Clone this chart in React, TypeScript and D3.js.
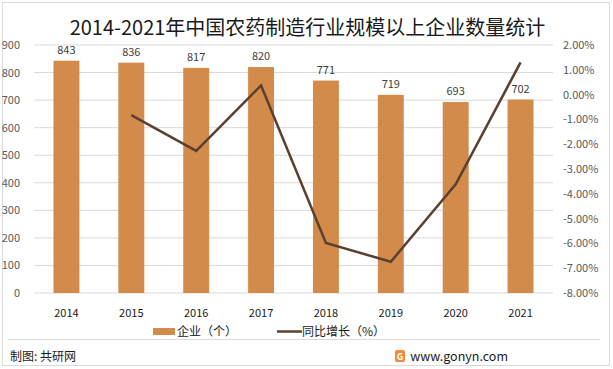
import * as d3 from "d3";

const years = ["2014", "2015", "2016", "2017", "2018", "2019", "2020", "2021"];
const firms = [843, 836, 817, 820, 771, 719, 693, 702];
// 同比增长 (%), 2014 has no value
const growth: (number | null)[] = [null, -0.83, -2.27, 0.37, -5.98, -6.74, -3.62, 1.3];
const leftTicks = [0, 100, 200, 300, 400, 500, 600, 700, 800, 900];
const rightTicks = [2, 1, 0, -1, -2, -3, -4, -5, -6, -7, -8];

const W = 613, H = 369;
const plot = { left: 34, right: 553, top: 45, bottom: 293 };
const barColor = "#d38b4c";
const lineColor = "#5b4030";
const font = "'Microsoft YaHei', 'Noto Sans CJK SC', sans-serif";

const App = () => {
  const x = d3.scaleBand().domain(years).range([plot.left, plot.right]).paddingInner(0.6).paddingOuter(0.3);
  const yL = d3.scaleLinear().domain([0, 900]).range([plot.bottom, plot.top]);
  const yR = d3.scaleLinear().domain([-8, 2]).range([plot.bottom, plot.top]);
  const cx = (yr: string) => (x(yr) as number) + x.bandwidth() / 2;

  const pts = years.map((yr, i) => ({ yr, v: growth[i] })).filter((d) => d.v !== null) as { yr: string; v: number }[];
  const linePath = d3.line<{ yr: string; v: number }>().x((d) => cx(d.yr)).y((d) => yR(d.v))(pts) || "";

  return (
    <svg width={W} height={H} style={{ position: "absolute", left: 0, top: 0, fontFamily: font }}>
      <rect x={0} y={0} width={W} height={H} fill="#fff" />
      <rect x={2.5} y={2.5} width={W - 6} height={H - 6} fill="none" stroke="#d9d9d9" />
      <text x={W / 2 + 1} y={35} textAnchor="middle" fontSize={20} fill="#1a1a1a">
        2014-2021年中国农药制造行业规模以上企业数量统计
      </text>

      {leftTicks.map((t) => (
        <g key={"l" + t}>
          <line x1={plot.left} x2={plot.right} y1={yL(t)} y2={yL(t)} stroke="#d9d9d9" />
          <text x={20} y={yL(t) + 4} textAnchor="end" fontSize={11} fill="#595959">{t}</text>
        </g>
      ))}
      {rightTicks.map((t) => (
        <text key={"r" + t} x={563} y={yR(t) + 4} fontSize={11} fill="#595959">{t.toFixed(2) + "%"}</text>
      ))}

      {years.map((yr, i) => (
        <g key={yr}>
          <rect x={x(yr)} y={yL(firms[i])} width={x.bandwidth()} height={plot.bottom - yL(firms[i])} fill={barColor} />
          <text x={cx(yr)} y={yL(firms[i]) - 7} textAnchor="middle" fontSize={11} fill="#404040">{firms[i]}</text>
          <text x={cx(yr)} y={317} textAnchor="middle" fontSize={11} fill="#1a1a1a">{yr}</text>
        </g>
      ))}

      <path d={linePath} fill="none" stroke={lineColor} strokeWidth={2.5} />

      <rect x={153} y={328} width={22} height={7} fill={barColor} />
      <text x={177} y={336} fontSize={12} fill="#1a1a1a">企业（个）</text>
      <line x1={277} x2={302} y1={331.5} y2={331.5} stroke={lineColor} strokeWidth={2.5} />
      <text x={302} y={336} fontSize={12} fill="#1a1a1a">同比增长（%）</text>

      <line x1={8} x2={600} y1={339.5} y2={339.5} stroke="#d9d9d9" />
      <text x={10} y={361} fontSize={12} fill="#1a1a1a">制图: 共研网</text>
      <rect x={395} y={350} width={10} height={12} rx={2} fill="#f08a3c" />
      <text x={400} y={359.5} textAnchor="middle" fontSize={9} fontWeight="bold" fill="#fff">G</text>
      <text x={508} y={361} textAnchor="end" fontSize={12.5} fill="#1a1a1a">www.gonyn.com</text>
    </svg>
  );
};

export default App;
